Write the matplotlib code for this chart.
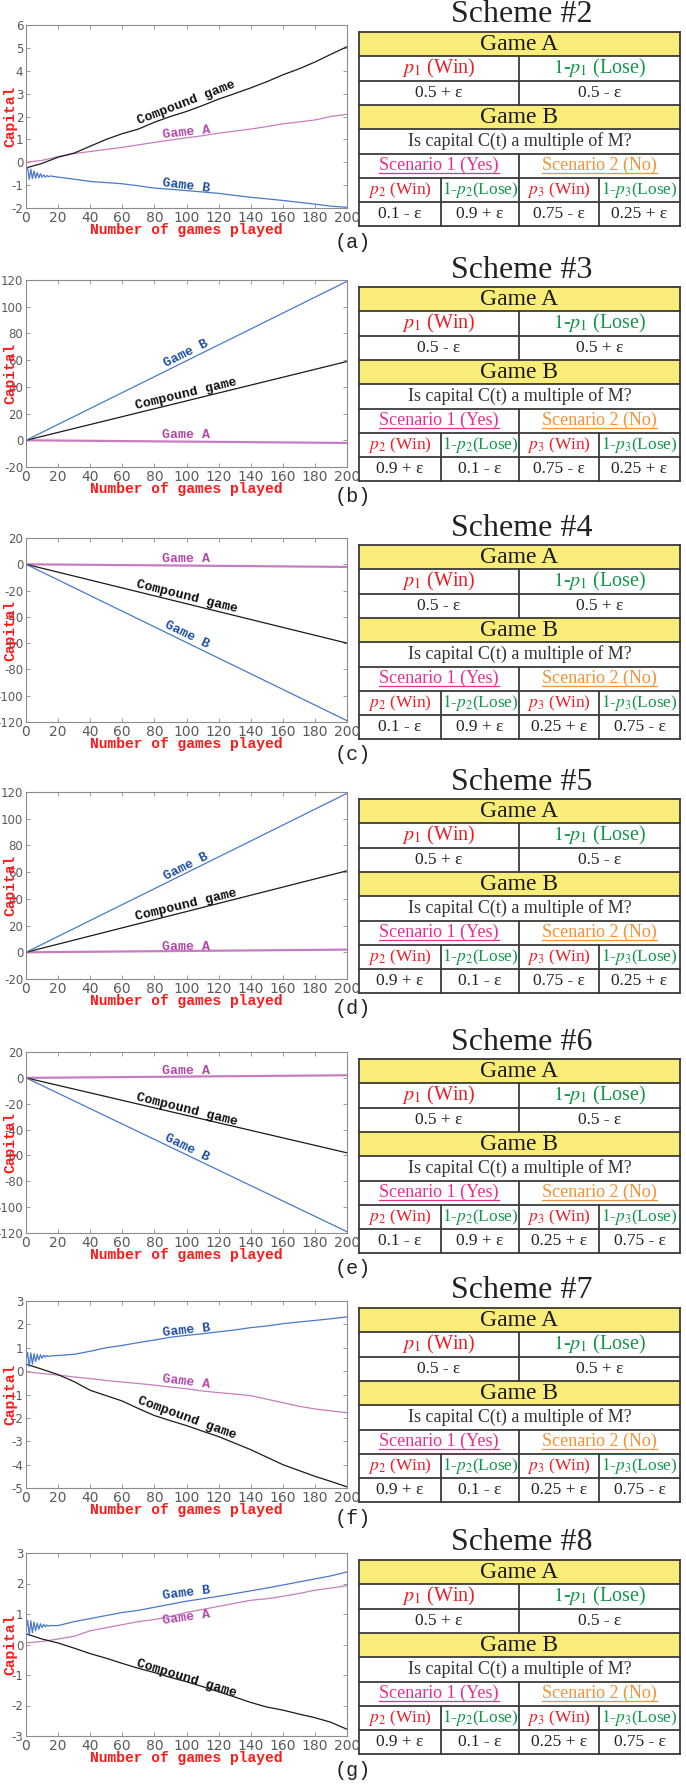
import numpy as np
import matplotlib.pyplot as plt
from matplotlib.patches import Rectangle

plt.rcParams['mathtext.fontset'] = 'stix'
plt.rcParams['axes.unicode_minus'] = False

W, H = 686, 1787

# ---------------- data ----------------
x_steps = list(range(0, 201, 10))
x_osc = list(range(0, 16)) + list(range(20, 201, 10))
x_lin = [0, 200]

# (a) scheme 2
a_game_a = [0.0, 0.08, 0.25, 0.38, 0.47, 0.56, 0.65, 0.76, 0.87, 0.97, 1.07,
            1.16, 1.27, 1.36, 1.45, 1.56, 1.68, 1.76, 1.85, 2.0, 2.1]
a_comp = [-0.25, -0.05, 0.22, 0.4, 0.7, 1.0, 1.25, 1.45, 1.75, 2.0, 2.22,
          2.48, 2.76, 3.0, 3.25, 3.52, 3.82, 4.08, 4.38, 4.72, 5.05]
a_game_b = [-0.35, -0.25, -0.75, -0.3, -0.72, -0.38, -0.7, -0.45, -0.68, -0.5,
            -0.66, -0.55, -0.65, -0.58, -0.63, -0.6,
            -0.65, -0.74, -0.84, -0.89, -0.94, -1.03, -1.13, -1.18, -1.24, -1.3,
            -1.36, -1.45, -1.53, -1.6, -1.67, -1.75, -1.83, -1.92, -1.97]

# (b)-(e) schemes 3-6 (straight lines)
b_game_a, b_comp, b_game_b = [0, -2], [0, 59], [0, 119]
c_game_a, c_comp, c_game_b = [0, -2], [0, -60], [0, -119]
d_game_a, d_comp, d_game_b = [0, 2], [0, 61], [0, 119]
e_game_a, e_comp, e_game_b = [0, 2], [0, -58], [0, -119]

# (f) scheme 7
f_game_a = [-0.03, -0.1, -0.17, -0.25, -0.32, -0.4, -0.47, -0.53, -0.6, -0.68,
            -0.75, -0.85, -0.92, -0.98, -1.05, -1.2, -1.35, -1.5, -1.62, -1.7, -1.78]
f_comp = [0.3, 0.08, -0.15, -0.45, -0.82, -1.05, -1.28, -1.6, -1.9, -2.12, -2.33,
          -2.57, -2.8, -3.08, -3.36, -3.68, -4.0, -4.25, -4.5, -4.72, -4.95]
f_game_b = [0.45, 0.8, 0.2, 0.78, 0.3, 0.75, 0.4, 0.72, 0.48, 0.7, 0.55, 0.68,
            0.6, 0.67, 0.62, 0.65,
            0.67, 0.72, 0.85, 1.0, 1.1, 1.22, 1.33, 1.45, 1.53, 1.6, 1.68, 1.76,
            1.86, 1.93, 2.03, 2.1, 2.17, 2.24, 2.32]

# (g) scheme 8
g_game_a = [0.05, 0.1, 0.18, 0.27, 0.45, 0.55, 0.65, 0.75, 0.82, 0.92, 1.05,
            1.15, 1.25, 1.35, 1.45, 1.5, 1.58, 1.67, 1.78, 1.85, 1.93]
g_comp = [0.35, 0.18, 0.05, -0.12, -0.3, -0.45, -0.62, -0.78, -0.92, -1.08, -1.22,
          -1.38, -1.55, -1.72, -1.9, -2.05, -2.15, -2.28, -2.4, -2.55, -2.78]
g_game_b = [0.5, 0.8, 0.3, 0.78, 0.38, 0.74, 0.45, 0.7, 0.5, 0.68, 0.55, 0.66,
            0.58, 0.64, 0.6, 0.62,
            0.62, 0.75, 0.85, 0.95, 1.05, 1.12, 1.22, 1.32, 1.42, 1.5, 1.58, 1.67,
            1.76, 1.85, 1.95, 2.05, 2.15, 2.25, 2.38]

panel_letters = ['a', 'b', 'c', 'd', 'e', 'f', 'g']
scheme_nums = [2, 3, 4, 5, 6, 7, 8]
y_limits = [(-2, 6), (-20, 120), (-120, 20), (-20, 120), (-120, 20), (-5, 3), (-3, 3)]
y_steps = [1, 20, 20, 20, 20, 1, 1]

game_a_series = [(x_steps, a_game_a), (x_lin, b_game_a), (x_lin, c_game_a), (x_lin, d_game_a),
                 (x_lin, e_game_a), (x_steps, f_game_a), (x_steps, g_game_a)]
comp_series = [(x_steps, a_comp), (x_lin, b_comp), (x_lin, c_comp), (x_lin, d_comp),
               (x_lin, e_comp), (x_steps, f_comp), (x_steps, g_comp)]
game_b_series = [(x_osc, a_game_b), (x_lin, b_game_b), (x_lin, c_game_b), (x_lin, d_game_b),
                 (x_lin, e_game_b), (x_osc, f_game_b), (x_osc, g_game_b)]

# table entries per scheme
p1_win = ["0.5 + ε", "0.5 - ε", "0.5 - ε", "0.5 + ε", "0.5 + ε", "0.5 - ε", "0.5 + ε"]
p1_lose = ["0.5 - ε", "0.5 + ε", "0.5 + ε", "0.5 - ε", "0.5 - ε", "0.5 + ε", "0.5 - ε"]
p2_win = ["0.1 - ε", "0.9 + ε", "0.1 - ε", "0.9 + ε", "0.1 - ε", "0.9 + ε", "0.9 + ε"]
p2_lose = ["0.9 + ε", "0.1 - ε", "0.9 + ε", "0.1 - ε", "0.9 + ε", "0.1 - ε", "0.1 - ε"]
p3_win = ["0.75 - ε", "0.75 - ε", "0.25 + ε", "0.75 - ε", "0.25 + ε", "0.25 + ε", "0.25 + ε"]
p3_lose = ["0.25 + ε", "0.25 + ε", "0.75 - ε", "0.25 + ε", "0.75 - ε", "0.75 - ε", "0.75 - ε"]

# ---------------- layout (pixels) ----------------
offsets = [0, 255, 513, 767, 1027, 1276, 1528]
ax_top = [25, 280, 538, 792, 1052, 1301, 1553]
ax_bot = [208, 467, 722, 979, 1233, 1488, 1736]
AX_L, AX_R = 26, 347

# label placement: (x, y, rotation)
lbl_comp = [(100, 2.58, 21), (100, 35, 13.5), (100, -24.5, -14), (100, 35.5, 13.5),
            (100, -25, -14), (100, -2.0, -20), (100, -1.11, -17)]
lbl_a = [(100, 1.3, 6), (100, 3.75, 0), (100, 4, 0), (100, 4.25, 0),
         (100, 5.4, 0), (100, -0.45, -7), (100, 0.87, 8)]
lbl_b = [(100, -1.05, -7), (100, 65, 26.5), (100, -53.8, -26), (100, 64, 26.5),
         (100, -54.5, -26), (100, 1.75, 6), (100, 1.67, 7)]

COL_COMP, COL_A, COL_B = '#1a1a1a', '#c77dc0', '#4a78c8'
TXT_COMP, TXT_A, TXT_B = '#111111', '#b04aa8', '#1f4fa0'
RED, GREEN = '#ee1c25', '#12964a'

fig = plt.figure(figsize=(W / 100, H / 100), dpi=100)

over = fig.add_axes([0, 0, 1, 1])
over.set_xlim(0, W)
over.set_ylim(H, 0)
over.axis('off')

mono = 'Liberation Mono'
serif = 'Liberation Serif'

for i in range(7):
    top, bot = ax_top[i], ax_bot[i]
    ax = fig.add_axes([AX_L / W, 1 - bot / H, (AX_R - AX_L) / W, (bot - top) / H])
    lw_a = 1.6 if i in (1, 2, 3, 4) else 0.9
    ax.plot(*game_a_series[i], color=COL_A, lw=lw_a)
    ax.plot(*comp_series[i], color=COL_COMP, lw=0.9)
    ax.plot(*game_b_series[i], color=COL_B, lw=0.9)

    lo, hi = y_limits[i]
    ax.set_xlim(0, 200)
    ax.set_ylim(lo, hi)
    ax.set_xticks(range(0, 201, 20))
    ax.set_yticks(np.arange(lo, hi + y_steps[i] / 2, y_steps[i]))
    ax.tick_params(direction='in', top=True, right=True, length=3, width=0.6,
                   color='#8c8c8c', labelcolor='#5a5a5a', pad=2)
    ax.tick_params(axis='x', labelsize=10)
    ax.tick_params(axis='y', labelsize=8.5)
    for s in ax.spines.values():
        s.set_color('#8c8c8c')
        s.set_linewidth(0.8)

    ax.set_xlabel('Number of games played', color='#ff1a1a', family=mono,
                  fontweight='bold', fontsize=10.5, va='center')
    ax.xaxis.set_label_coords(0.5, -0.12)
    ax.set_ylabel('Capital', color='#ff1a1a', family=mono, fontweight='bold',
                  fontsize=10.5, va='center')
    ax.yaxis.set_label_coords(-0.05, 0.5)

    for (lx, ly, rot), txt, col in [(lbl_comp[i], 'Compound game', TXT_COMP),
                                     (lbl_a[i], 'Game A', TXT_A),
                                     (lbl_b[i], 'Game B', TXT_B)]:
        ax.text(lx, ly, txt, color=col, family=mono, fontweight='bold', fontsize=9.5,
                rotation=rot, ha='center', va='center', rotation_mode='anchor')

    # panel letter
    off = offsets[i]
    over.text(353, off + 242, '(%s)' % panel_letters[i], family=mono, fontsize=14.5,
              ha='center', va='center', color='#222222')

    # scheme title
    over.text(522, off + 15, 'Scheme #%d' % scheme_nums[i], family=serif, fontsize=23,
              ha='center', va='center', color='#222222')

underline_texts = []
L, R, M, Q1, Q3 = 359, 680, 519, 441, 599
RH = 24.3
for i in range(7):
    T = offsets[i] + 32
    ys = [T + k * RH for k in range(9)]
    for k in (0, 3):
        over.add_patch(Rectangle((L, ys[k]), R - L, RH, facecolor='#f9ec79',
                                 edgecolor='none'))
    lc, lw = '#3a3a3a', 1.3
    for y in ys:
        over.plot([L, R], [y, y], color=lc, lw=lw, solid_capstyle='projecting')
    over.plot([L, L], [ys[0], ys[8]], color=lc, lw=lw)
    over.plot([R, R], [ys[0], ys[8]], color=lc, lw=lw)
    over.plot([M, M], [ys[1], ys[3]], color=lc, lw=lw)
    over.plot([M, M], [ys[5], ys[8]], color=lc, lw=lw)
    for qx in (Q1, Q3):
        over.plot([qx, qx], [ys[6], ys[8]], color=lc, lw=lw)

    def cy(k):
        return ys[k] + RH / 2

    over.text((L + R) / 2, cy(0), 'Game A', family=serif, fontsize=17, ha='center',
              va='center', color='#1a1a1a')
    over.text((L + M) / 2, cy(1), r'$p_1$ (Win)', family=serif, fontsize=14.5,
              ha='center', va='center', color=RED)
    over.text((M + R) / 2, cy(1), r'$\mathit{1}$-$p_1$ (Lose)', family=serif,
              fontsize=14.5, ha='center', va='center', color=GREEN)
    over.text((L + M) / 2, cy(2), p1_win[i], family=serif, fontsize=12.5,
              ha='center', va='center', color='#222222')
    over.text((M + R) / 2, cy(2), p1_lose[i], family=serif, fontsize=12.5,
              ha='center', va='center', color='#222222')
    over.text((L + R) / 2, cy(3), 'Game B', family=serif, fontsize=17, ha='center',
              va='center', color='#1a1a1a')
    over.text((L + R) / 2, cy(4), 'Is capital C(t) a multiple of M?', family=serif,
              fontsize=13, ha='center', va='center', color='#333333')
    t1 = over.text((L + M) / 2, cy(5), 'Scenario 1 (Yes)', family=serif, fontsize=13,
                   ha='center', va='center', color='#e6308f')
    t2 = over.text((M + R) / 2, cy(5), 'Scenario 2 (No)', family=serif, fontsize=13,
                   ha='center', va='center', color='#f39236')
    underline_texts += [(t1, '#e6308f'), (t2, '#f39236')]

    cells = [(L, Q1), (Q1, M), (M, Q3), (Q3, R)]
    heads = [(r'$p_2$ (Win)', RED), (r'$\mathit{1}$-$p_2$(Lose)', GREEN),
             (r'$p_3$ (Win)', RED), (r'$\mathit{1}$-$p_3$(Lose)', GREEN)]
    vals = [p2_win[i], p2_lose[i], p3_win[i], p3_lose[i]]
    for (x0, x1), (ht, hc), v in zip(cells, heads, vals):
        over.text((x0 + x1) / 2, cy(6), ht, family=serif, fontsize=12.5, ha='center',
                  va='center', color=hc)
        over.text((x0 + x1) / 2, cy(7), v, family=serif, fontsize=12.5, ha='center',
                  va='center', color='#222222')

fig.canvas.draw()
inv = over.transData.inverted()
for t, col in underline_texts:
    bb = t.get_window_extent()
    (x0, y0), (x1, _) = inv.transform([(bb.x0, bb.y0), (bb.x1, bb.y0)])
    over.plot([x0, x1], [y0 - 1, y0 - 1], color=col, lw=0.9)

fig.savefig('out.png', dpi=100)
